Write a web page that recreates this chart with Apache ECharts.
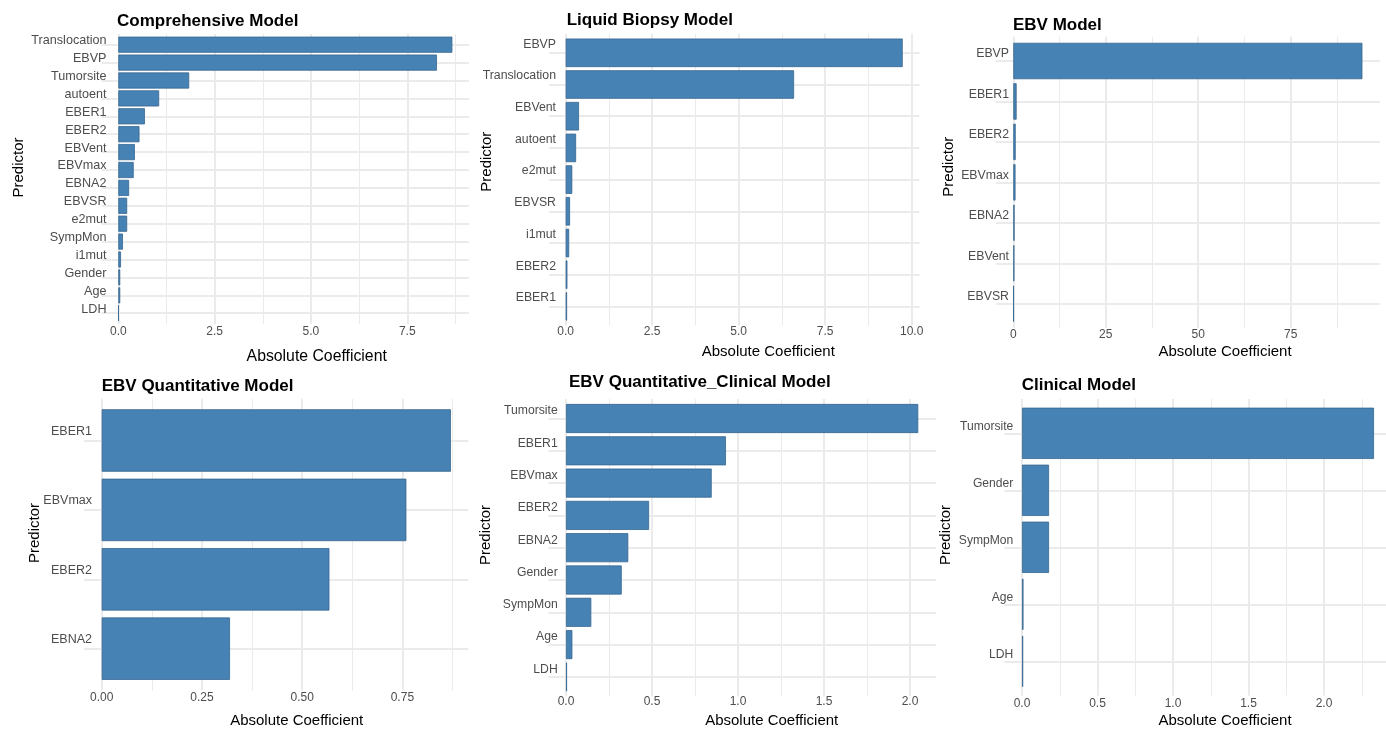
<!DOCTYPE html>
<html>
<head>
<meta charset="utf-8">
<script src="https://cdn.jsdelivr.net/npm/echarts@6/dist/echarts.min.js"></script>
<style>
  html, body { margin: 0; padding: 0; background: #ffffff; }
  #chart { width: 1386px; height: 729px; }
</style>
</head>
<body>
<div id="chart"></div>
<script>
// ---- Data: absolute model coefficients per predictor ----
const modelTitles = [
  'Comprehensive Model',
  'Liquid Biopsy Model',
  'EBV Model',
  'EBV Quantitative Model',
  'EBV Quantitative_Clinical Model',
  'Clinical Model'
];

const comprehensivePredictors = ['Translocation', 'EBVP', 'Tumorsite', 'autoent', 'EBER1', 'EBER2', 'EBVent', 'EBVmax', 'EBNA2', 'EBVSR', 'e2mut', 'SympMon', 'i1mut', 'Gender', 'Age', 'LDH'];
const comprehensiveCoef = [8.67, 8.27, 1.84, 1.06, 0.69, 0.55, 0.43, 0.40, 0.28, 0.23, 0.23, 0.12, 0.07, 0.05, 0.05, 0.01];

const liquidPredictors = ['EBVP', 'Translocation', 'EBVent', 'autoent', 'e2mut', 'EBVSR', 'i1mut', 'EBER2', 'EBER1'];
const liquidCoef = [9.74, 6.60, 0.385, 0.30, 0.19, 0.125, 0.10, 0.05, 0.04];

const ebvPredictors = ['EBVP', 'EBER1', 'EBER2', 'EBVmax', 'EBNA2', 'EBVent', 'EBVSR'];
const ebvCoef = [94.4, 0.9, 0.65, 0.6, 0.35, 0.3, 0.15];

const ebvQuantPredictors = ['EBER1', 'EBVmax', 'EBER2', 'EBNA2'];
const ebvQuantCoef = [0.871, 0.760, 0.568, 0.320];

const ebvQuantClinPredictors = ['Tumorsite', 'EBER1', 'EBVmax', 'EBER2', 'EBNA2', 'Gender', 'SympMon', 'Age', 'LDH'];
const ebvQuantClinCoef = [2.048, 0.930, 0.847, 0.483, 0.362, 0.324, 0.147, 0.037, 0.006];

const clinicalPredictors = ['Tumorsite', 'Gender', 'SympMon', 'Age', 'LDH'];
const clinicalCoef = [2.331, 0.179, 0.179, 0.01, 0.008];

// Axis tick steps and label decimals for each panel
const majorSteps = [2.5, 2.5, 25, 0.25, 0.5, 0.5];
const tickDecimals = [1, 1, 0, 2, 1, 1];

const xAxisTitle = 'Absolute Coefficient';
const yAxisTitle = 'Predictor';

// ---- Panel layout (pixels) ----
// x0: position of zero, ppu: pixels per unit, c0: first row centre, s: row pitch
const layouts = [
  { x0: 118.3, ppu: 38.53, c0: 44.7, s: 17.9, tickY: 330.5, labelRight: 106.5, lift: 4,   labelSize: 12.6, titleSize: 15.8, title: [117, 21],     axisTitle: [316.7, 357],   pred: [19, 167.5] },
  { x0: 565.7, ppu: 34.6,  c0: 52.8, s: 31.7, tickY: 330,   labelRight: 556,   lift: 8.5, labelSize: 12.3, titleSize: 15,   title: [566.7, 20.5], axisTitle: [768.3, 352.3], pred: [486.7, 161.7] },
  { x0: 1013.3, ppu: 3.698, c0: 61,  s: 40.45, tickY: 333,  labelRight: 1009,  lift: 7,   labelSize: 12.3, titleSize: 15,   title: [1013, 25],    axisTitle: [1225, 352.3],  pred: [949, 166.7] },
  { x0: 101.7, ppu: 400.9, c0: 440.5, s: 69.4, tickY: 696.5, labelRight: 92,   lift: 9,   labelSize: 12.5, titleSize: 15,   title: [101.7, 386],  axisTitle: [296.7, 720.7], pred: [35, 533] },
  { x0: 566,   ppu: 172,   c0: 418.5, s: 32.3, tickY: 700,  labelRight: 557.7, lift: 7.5, labelSize: 12.2, titleSize: 15,   title: [569, 382.7],  axisTitle: [771.7, 720.7], pred: [486, 535] },
  { x0: 1022,  ppu: 151,   c0: 433.3, s: 57,   tickY: 701.7, labelRight: 1013.3, lift: 6.5, labelSize: 12.1, titleSize: 15, title: [1021.7, 385], axisTitle: [1225, 720.7], pred: [946, 535] }
];

const panels = [
  { cats: comprehensivePredictors, vals: comprehensiveCoef },
  { cats: liquidPredictors, vals: liquidCoef },
  { cats: ebvPredictors, vals: ebvCoef },
  { cats: ebvQuantPredictors, vals: ebvQuantCoef },
  { cats: ebvQuantClinPredictors, vals: ebvQuantClinCoef },
  { cats: clinicalPredictors, vals: clinicalCoef }
];

const FONT = "'Liberation Sans', Arial, Helvetica, sans-serif";
const GRID_COLOR = '#EBEBEB';
const BAR_COLOR = '#4682B4';
const TEXT_GREY = '#4D4D4D';

const option = {
  animation: false,
  backgroundColor: '#ffffff',
  grid: [], xAxis: [], yAxis: [], series: [], graphic: []
};

function addGrid(g) {
  option.grid.push(Object.assign({ containLabel: false, outerBoundsMode: 'none', show: false }, g));
  return option.grid.length - 1;
}

panels.forEach((p, i) => {
  const L = layouts[i];
  const n = p.cats.length;
  const peak = Math.max(...p.vals);
  const xmax = peak * 1.05;          // 5% expansion on both sides
  const xmin = -peak * 0.05;
  const step = majorSteps[i];
  const dec = tickDecimals[i];

  // Grid A: vertical major/minor grid lines and tick labels
  const gA = addGrid({ left: L.x0, width: xmax * L.ppu, top: L.c0 - 0.6 * L.s, height: (n - 1 + 1.2) * L.s });
  const bottomA = L.c0 + (n - 1 + 0.6) * L.s;
  option.xAxis.push({
    gridIndex: gA, type: 'value', min: 0, max: xmax, interval: step, position: 'bottom',
    axisLine: { show: false }, axisTick: { show: false },
    axisLabel: {
      show: true, color: TEXT_GREY, fontSize: 12, fontFamily: FONT,
      margin: L.tickY - bottomA - 4.5, showMaxLabel: false,
      formatter: v => Number(v).toFixed(dec)
    },
    splitLine: { show: true, showMaxLine: false, lineStyle: { color: GRID_COLOR, width: 2 } },
    z: 0
  });
  option.xAxis.push({
    gridIndex: gA, type: 'value', min: 0, max: xmax, interval: step / 2, position: 'top',
    axisLine: { show: false }, axisTick: { show: false }, axisLabel: { show: false },
    splitLine: { show: true, showMaxLine: false, lineStyle: { color: GRID_COLOR, width: 1 } },
    z: 0
  });
  option.yAxis.push({ gridIndex: gA, type: 'value', min: 0, max: 1, show: false });

  // Grid B: horizontal grid lines through each predictor row
  const gB = addGrid({ left: L.x0 + xmin * L.ppu, width: (xmax - xmin) * L.ppu, top: L.c0, height: (n - 1) * L.s });
  option.xAxis.push({ gridIndex: gB, type: 'value', min: 0, max: 1, show: false });
  option.yAxis.push({
    gridIndex: gB, type: 'value', min: 0, max: n - 1, interval: 1, inverse: true,
    axisLine: { show: false }, axisTick: { show: false }, axisLabel: { show: false },
    splitLine: { show: true, lineStyle: { color: GRID_COLOR, width: 2 } },
    z: 0
  });

  // Grid C: the bars with predictor labels (labels sit slightly above the row line)
  const gC = addGrid({ left: L.x0, width: xmax * L.ppu, top: L.c0 - 0.5 * L.s, height: n * L.s });
  const xIdx = option.xAxis.length;
  option.xAxis.push({ gridIndex: gC, type: 'value', min: 0, max: xmax, show: false });
  const yIdx = option.yAxis.length;
  option.yAxis.push({
    gridIndex: gC, type: 'category', data: p.cats, inverse: true,
    axisLine: { show: false }, axisTick: { show: false }, splitLine: { show: false },
    axisLabel: {
      color: TEXT_GREY, fontSize: L.labelSize, fontFamily: FONT,
      margin: L.x0 - L.labelRight, verticalAlign: 'bottom', lineHeight: 2 * L.lift
    }
  });
  option.series.push({
    type: 'bar', xAxisIndex: xIdx, yAxisIndex: yIdx, data: p.vals,
    barWidth: '90%',
    itemStyle: { color: BAR_COLOR, borderColor: '#36668F', borderWidth: 0.8 },
    z: 3
  });

  // Titles and axis titles
  option.graphic.push({
    type: 'text', x: L.title[0], y: L.title[1], z: 10,
    style: { text: modelTitles[i], fill: '#000000', font: `bold 17px ${FONT}`, align: 'left', verticalAlign: 'middle' }
  });
  option.graphic.push({
    type: 'text', x: L.axisTitle[0], y: L.axisTitle[1], z: 10,
    style: { text: xAxisTitle, fill: '#000000', font: `${L.titleSize}px ${FONT}`, align: 'center', verticalAlign: 'middle' }
  });
  option.graphic.push({
    type: 'text', x: L.pred[0], y: L.pred[1], rotation: Math.PI / 2, z: 10,
    style: { text: yAxisTitle, fill: '#000000', font: `15px ${FONT}`, align: 'center', verticalAlign: 'middle' }
  });
});

const chart = echarts.init(document.getElementById('chart'), null, { renderer: 'canvas' });
chart.setOption(option);
</script>
</body>
</html>
